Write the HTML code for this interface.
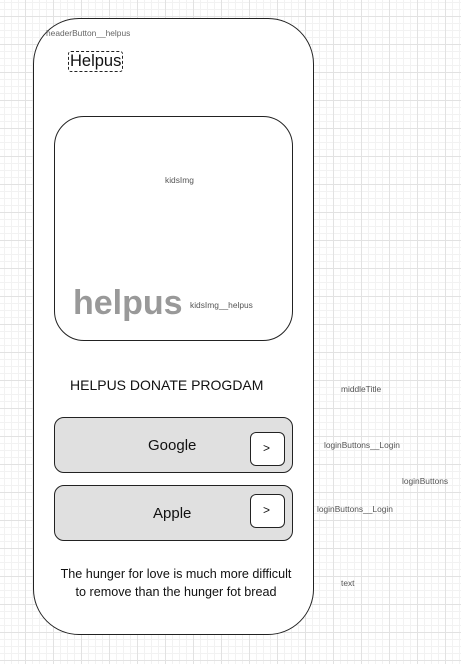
<!DOCTYPE html>
<html><head><meta charset="utf-8"><style>
html,body{margin:0;padding:0}
body{width:461px;height:664px;position:relative;overflow:hidden;background:#fff;font-family:"Liberation Sans",Arial,sans-serif;
background-image:
linear-gradient(#e2e2e2 1px,transparent 1px),
linear-gradient(90deg,#e2e2e2 1px,transparent 1px),
linear-gradient(#f2f2f2 1px,transparent 1px),
linear-gradient(90deg,#f2f2f2 1px,transparent 1px);
background-size:28px 28px,28px 28px,7px 7px,7px 7px;
background-position:0 16px,25px 0,0 2px,4px 0;}
.a{position:absolute;box-sizing:border-box}
.l{position:absolute;font-size:8.4px;color:#555;white-space:nowrap}
</style></head><body>
<div class="a" style="left:33px;top:18px;width:281px;height:617px;border:1.3px solid #222;border-radius:46px;background:#fff"></div>
<div class="l" style="left:46px;top:28px;color:#666">headerButton__helpus</div>
<div class="a" style="left:68px;top:51px;width:55px;height:21px;border:1.3px dashed #222;border-radius:3px"></div>
<div class="l" style="left:70px;top:52px;font-size:16.5px;color:#111">Helpus</div>
<div class="a" style="left:54px;top:116px;width:239px;height:225px;border:1.3px solid #222;border-radius:30px"></div>
<div class="l" style="left:165px;top:175px">kidsImg</div>
<div class="l" style="left:73px;top:284px;font-size:34px;font-weight:bold;color:#999">helpus</div>
<div class="l" style="left:190px;top:300px">kidsImg__helpus</div>
<div class="l" style="left:70px;top:377px;font-size:14px;color:#111">HELPUS DONATE PROGDAM</div>
<div class="a" style="left:54px;top:417px;width:239px;height:56px;border:1.3px solid #222;border-radius:10px;background:#e0e0e0"></div>
<div class="l" style="left:148px;top:437px;font-size:15px;color:#111">Google</div>
<div class="a" style="left:250px;top:432px;width:35px;height:34px;border:1.3px solid #222;border-radius:6px;background:#fff"></div>
<div class="l" style="left:263px;top:441px;font-size:12px;color:#111">&gt;</div>
<div class="a" style="left:54px;top:485px;width:239px;height:56px;border:1.3px solid #222;border-radius:10px;background:#e0e0e0"></div>
<div class="l" style="left:153px;top:505px;font-size:15px;color:#111">Apple</div>
<div class="a" style="left:250px;top:494px;width:35px;height:34px;border:1.3px solid #222;border-radius:6px;background:#fff"></div>
<div class="l" style="left:263px;top:503px;font-size:12px;color:#111">&gt;</div>
<div class="l" style="left:0;top:565px;width:352px;text-align:center;font-size:12.6px;line-height:18px;color:#111">The hunger for love is much more difficult<br>to remove than the hunger fot bread</div>
<div class="l" style="left:341px;top:384px">middleTitle</div>
<div class="l" style="left:324px;top:440px">loginButtons__Login</div>
<div class="l" style="left:402px;top:476px">loginButtons</div>
<div class="l" style="left:317px;top:504px">loginButtons__Login</div>
<div class="l" style="left:341px;top:578px">text</div>
</body></html>
